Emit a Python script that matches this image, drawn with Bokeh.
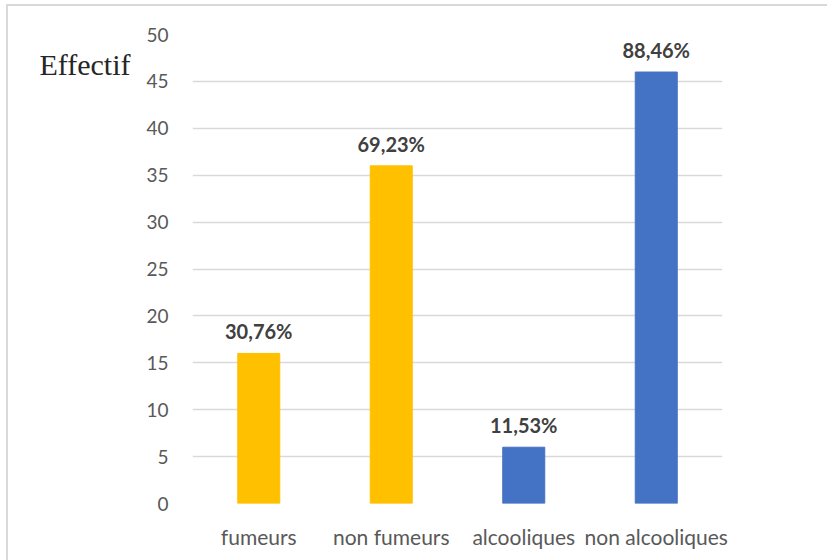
from bokeh.plotting import figure
from bokeh.models import ColumnDataSource, LabelSet, Range1d, FactorRange, FixedTicker, LinearAxis
from bokeh.core.properties import value
from bokeh.embed import file_html
from bokeh.resources import INLINE

categories = ["fumeurs", "non fumeurs", "alcooliques", "non alcooliques"]
effectifs = [16, 36, 6, 46]
pourcentages = ["30,76%", "69,23%", "11,53%", "88,46%"]
couleurs = ["#FFC000", "#FFC000", "#4472C4", "#4472C4"]
y_ticks = [0, 5, 10, 15, 20, 25, 30, 35, 40, 45, 50]

source = ColumnDataSource(dict(cat=categories, val=effectifs, pct=pourcentages, col=couleurs))

p = figure(
    width=819, height=554,
    x_range=FactorRange(*categories, range_padding=0),
    y_range=Range1d(0, 50),
    output_backend="svg", toolbar_location=None,
    min_border_left=184, min_border_right=105,
    min_border_top=28, min_border_bottom=57,
)
# chart area frame: thin grey line on the left and top edges
p.margin = (6, 0, 0, 8)
p.styles = {"outline": "2px solid #d9d9d9"}
p.outline_line_color = None
p.background_fill_color = "white"
p.border_fill_color = "white"

p.vbar(x="cat", top="val", width=0.317, color="col", source=source)

p.xgrid.grid_line_color = None
p.ygrid.grid_line_color = "#d9d9d9"
p.ygrid.grid_line_width = 1.3
p.yaxis.ticker = FixedTicker(ticks=y_ticks)

for ax in (p.xaxis, p.yaxis):
    ax.axis_line_color = None
    ax.major_tick_line_color = None
    ax.minor_tick_line_color = None
    ax.major_label_text_font = "Lato"
    ax.major_label_text_color = "#595959"
p.yaxis.major_label_text_font_size = "19px"
p.yaxis.major_label_standoff = 18
p.xaxis.major_label_text_font_size = "21px"
p.xaxis.major_label_standoff = 14

labels = LabelSet(x="cat", y="val", text="pct", source=source,
                  text_align="center", text_baseline="alphabetic", y_offset=14,
                  text_font=value("Lato"), text_font_style="bold",
                  text_font_size=value("20px"), text_color="#404040")
p.add_layout(labels)

# axis title "Effectif", set beside the top of the value axis
p.extra_y_ranges = {"titre": Range1d(-0.8, 49.2)}
titre = LinearAxis(y_range_name="titre", ticker=FixedTicker(ticks=[46]),
                   major_label_overrides={46: "Effectif"})
titre.axis_line_color = None
titre.major_tick_line_color = None
titre.minor_tick_line_color = None
titre.major_label_text_font = "Liberation Serif"
titre.major_label_text_font_size = "30px"
titre.major_label_text_color = "#262626"
titre.major_label_standoff = 7
p.add_layout(titre, "left")

open("out.html", "w").write(file_html(p, INLINE))
